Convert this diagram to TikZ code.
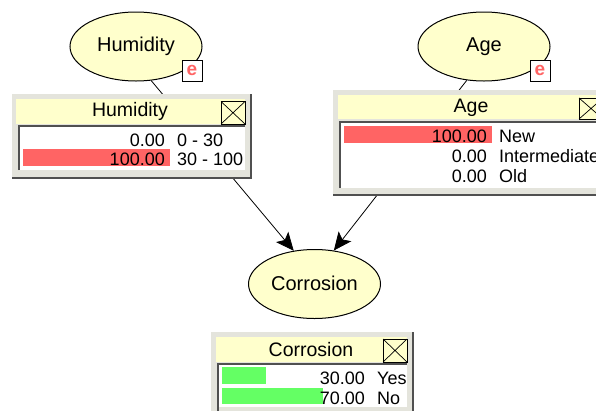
\documentclass[tikz,border=0pt]{standalone}
\usepackage{fontspec}
\setmainfont{Liberation Sans}
\usetikzlibrary{arrows.meta,shapes.geometric}
\definecolor{nodeyellow}{HTML}{FFFFCC}
\definecolor{barred}{HTML}{FF6464}
\definecolor{bargreen}{HTML}{64FF64}
\definecolor{panelgrey}{HTML}{E4E4DC}
\definecolor{edgegrey}{HTML}{505050}
\tikzset{
  x=1pt,y=-1pt,
  varnode/.style={ellipse,draw=black,line width=1pt,fill=nodeyellow,minimum width=132pt,minimum height=69pt,inner sep=0pt,font=\fontsize{20}{22}\selectfont},
  link/.style={draw=black,line width=0.8pt},
  causal/.style={link,-{Stealth[length=18pt,width=16pt,inset=4pt]}},
  panel/.style={fill=panelgrey,draw=none},
  titleband/.style={fill=nodeyellow,draw=none},
  paneltitle/.style={font=\fontsize{19.5}{22}\selectfont,inner sep=0pt,anchor=center},
  rowtext/.style={font=\fontsize{18}{20}\selectfont,inner sep=0pt},
  numtext/.style={rowtext,anchor=base east},
  labeltext/.style={rowtext,anchor=base west},
  closebox/.style={draw=black,line width=0.9pt,fill=nodeyellow},
  evidence/.style={draw=black,line width=1pt,fill=white,minimum width=20pt,minimum height=21pt,inner sep=0pt,text=barred,font=\fontsize{19}{20}\selectfont\bfseries},
  darkedge/.style={draw=edgegrey,line width=2pt},
  innerframe/.style={fill=white,draw=none}
}
\begin{document}
\begin{tikzpicture}
\useasboundingbox (0,0) rectangle (596,410);
\clip (0,0) rectangle (596,410);

% variable nodes
\node[varnode] (hum) at (136,46.5) {\raisebox{3pt}{Humidity}};
\node[varnode] (age) at (484,46.5) {\raisebox{3pt}{Age}};
\node[varnode] (cor) at (314.5,284) {\raisebox{2pt}{Corrosion}};

% connectors (run beneath the panels)
\path[causal] (hum.-66) -- (cor.122);
\path[causal] (age.-117) -- (cor.60);

% evidence marks
\node[evidence] (ehum) at (192,70.5) {e};
\node[evidence] (eage) at (540,70.5) {e};

% Humidity panel
\fill[panel] (12,94) rectangle (251,178);
\draw[darkedge] (250.5,94) -- (250.5,177.5) -- (12,177.5);
\fill[titleband] (16,99) rectangle (245,124);
\node[paneltitle] (humtitle) at (130,111.5) {Humidity};
\filldraw[closebox] (221,101.5) rectangle (245,124);
\draw[line width=0.7pt] (221,101.5) -- (245,124) (245,101.5) -- (221,124);
\fill[innerframe] (18,125) rectangle (245,170);
\draw[darkedge] (18.5,170) -- (18.5,125.5) -- (245,125.5);
\fill[barred] (23,149) rectangle (170,166);
\node[numtext] (h1n) at (165,146) {0.00};
\node[labeltext] (h1l) at (177,146) {0 - 30};
\node[numtext] (h2n) at (165,165) {100.00};
\node[labeltext] (h2l) at (177,165) {30 - 100};

% Age panel
\fill[panel] (333,90) rectangle (600,195);
\draw[darkedge] (333,194.5) -- (600,194.5);
\fill[titleband] (338,95) rectangle (600,119);
\node[paneltitle] (agetitle) at (471,108) {Age};
\filldraw[closebox] (579,98) rectangle (603,119);
\draw[line width=0.7pt] (579,98) -- (603,119) (603,98) -- (579,119);
\fill[innerframe] (339,121) rectangle (600,188);
\draw[darkedge] (339.5,188) -- (339.5,121.5) -- (600,121.5);
\fill[barred] (344,126) rectangle (492,143);
\node[numtext] (a1n) at (487,142) {100.00};
\node[labeltext] (a1l) at (499,142) {New};
\node[numtext] (a2n) at (487,162.5) {0.00};
\node[labeltext] (a2l) at (499,162.5) {Intermediate};
\node[numtext] (a3n) at (487,182.5) {0.00};
\node[labeltext] (a3l) at (499,182.5) {Old};

% Corrosion panel
\fill[panel] (211,332) rectangle (413,415);
\draw[darkedge] (412.5,332) -- (412.5,415);
\fill[titleband] (216,337) rectangle (407,362);
\node[paneltitle] (cortitle) at (311,349.5) {Corrosion};
\filldraw[closebox] (383,339) rectangle (407,362);
\draw[line width=0.7pt] (383,339) -- (407,362) (407,339) -- (383,362);
\fill[innerframe] (217,363) rectangle (407,407);
\draw[darkedge] (217.5,415) -- (217.5,363.5) -- (407,363.5);
\fill[bargreen] (222,367) rectangle (266,384);
\fill[bargreen] (222,388) rectangle (323,404);
\node[numtext] (c1n) at (365,384) {30.00};
\node[labeltext] (c1l) at (377,384) {Yes};
\node[numtext] (c2n) at (365,404) {70.00};
\node[labeltext] (c2l) at (377,404) {No};
\end{tikzpicture}
\end{document}
